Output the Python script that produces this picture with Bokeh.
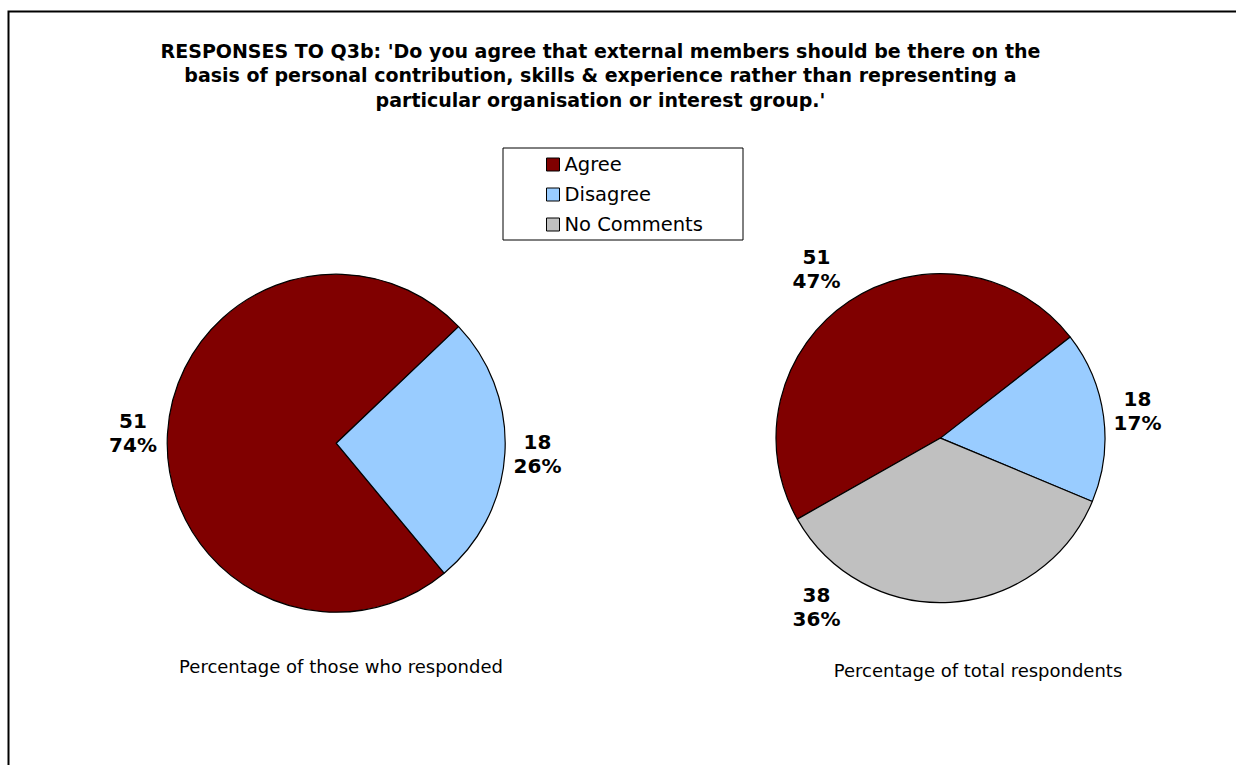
from bokeh.plotting import figure
from bokeh.models import Range1d, ColumnDataSource
from bokeh.embed import file_html
from bokeh.resources import INLINE
from bokeh.core.properties import value

# ---------------- data ----------------
title_lines = [
    "RESPONSES TO Q3b: 'Do you agree that external members should be there on the",
    "basis of personal contribution, skills & experience rather than representing a",
    "particular organisation or interest group.'",
]
categories = ["Agree", "Disagree", "No Comments"]
colors = ["#800000", "#99CCFF", "#C0C0C0"]

left_values = [51, 18]
left_pct = ["74%", "26%"]
right_values = [51, 18, 38]
right_pct = ["47%", "17%", "36%"]

left_caption = "Percentage of those who responded"
right_caption = "Percentage of total respondents"

# ---------------- layout ----------------
W, H = 1236, 765
FONT = value("DejaVu Sans")
TS = 7  # baseline correction for text rendering


def Y(y):
    return H - y


def YT(y):
    return H - (y - TS)


p = figure(width=W, height=H, x_range=Range1d(0, W), y_range=Range1d(0, H),
           output_backend="svg", toolbar_location=None, min_border=0,
           x_axis_location=None, y_axis_location=None)
p.grid.visible = False
p.outline_line_color = None
p.background_fill_color = "white"
p.border_fill_color = "white"

# chart border (left + top visible)
p.line(x=[8, 8, W + 10], y=[Y(H + 10), Y(11), Y(11)], line_color="black",
       line_width=2, line_join="miter")

# title
title_baselines = [57, 81.5, 106]
for line, yb in zip(title_lines, title_baselines):
    p.text(x=[600], y=[YT(yb)], text=[line], text_font=FONT, text_font_style="bold",
           text_font_size="19px", text_align="center", text_baseline="alphabetic",
           text_color="black")


def draw_pie(cx, cy, r, start_deg, values, pcts, label_pos):
    total = float(sum(values))
    starts, ends = [], []
    a = start_deg
    for v in values:
        starts.append(a)
        a = a - v * 360.0 / total
        ends.append(a)
    src = ColumnDataSource(dict(
        x=[cx] * len(values), y=[Y(cy)] * len(values),
        start=starts, end=ends, color=colors[:len(values)],
        cat=categories[:len(values)]))
    p.wedge(x="x", y="y", radius=r, start_angle="start", end_angle="end",
            start_angle_units="deg", end_angle_units="deg", direction="clock",
            fill_color="color", line_color="black", line_width=1.2, source=src)
    for v, pc, (lx, ly) in zip(values, pcts, label_pos):
        p.text(x=[lx, lx], y=[YT(ly), YT(ly + 24)], text=[str(v), pc], text_font=FONT,
               text_font_style="bold", text_font_size="20px", text_align="center",
               text_baseline="alphabetic", text_color="black")


draw_pie(335.7, 442.7, 169, 309.7, left_values, left_pct,
         [(132.5, 427), (537, 448.5)])
draw_pie(940, 437.6, 164.5, 209.5, right_values, right_pct,
         [(816, 263.5), (1137, 405), (816, 601.5)])

# captions
p.text(x=[340.5], y=[YT(673)], text=[left_caption], text_font=FONT, text_font_size="18px",
       text_align="center", text_baseline="alphabetic", text_color="black")
p.text(x=[977.5], y=[YT(677)], text=[right_caption], text_font=FONT, text_font_size="18px",
       text_align="center", text_baseline="alphabetic", text_color="black")

# legend
p.quad(left=[502.5], right=[742.5], top=[Y(147.5)], bottom=[Y(239.5)],
       fill_color="white", line_color="black", line_width=1)
for i, (cat, col) in enumerate(zip(categories, colors)):
    yc = 164 + 30 * i
    p.rect(x=[552.5], y=[Y(yc)], width=13, height=13, fill_color=col,
           line_color="black", line_width=1)
    p.text(x=[564], y=[YT(171 + 30 * i)], text=[cat], text_font=FONT, text_font_size="19.5px",
           text_align="left", text_baseline="alphabetic", text_color="black")

open("out.html", "w").write(file_html(p, INLINE))
